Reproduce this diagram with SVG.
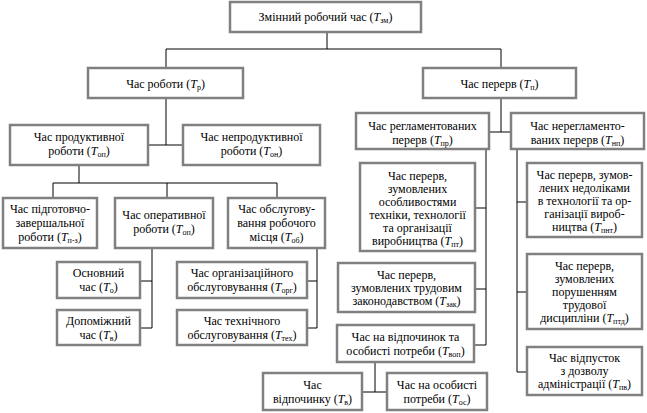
<svg xmlns="http://www.w3.org/2000/svg" width="647" height="413" viewBox="0 0 647 413">
<style>
.b{fill:#fff;stroke:#808080;stroke-width:2.5}
.t text{font-family:"Times New Roman","Liberation Serif",Tinos,"DejaVu Serif",serif;font-size:12px;fill:#000;text-anchor:middle}
.i{font-style:italic}
.s{font-size:8px}
.c{stroke:#000;stroke-width:1;fill:none}
</style>
<rect width="647" height="413" fill="#fff"/>
<g id="connectors" class="c">
<path d="M327,32V49M166,49H501M166,49V68M501,49V68"/>
<path d="M166,98V145M148,145H183"/>
<path d="M79,165V183M53,183H277M53,183V198M167,183V198M277,183V198"/>
<path d="M152,248V328M140,281H152M140,328H152"/>
<path d="M317,248V328M307,281H317M307,328H317"/>
<path d="M501,98V132M489,132H511"/>
<path d="M486,149V345M475,208H486M475,289H486M474,345H486"/>
<path d="M517,149V372M517,202H527M517,292H527M517,372H527"/>
<path d="M375,362V392M362,392H387"/>
</g>
<g class="t">
<g id="n_tzm"><rect class="b" x="230" y="2" width="191" height="30"/>
<text x="325.5" y="21">Змінний робочий час (<tspan class="i">T</tspan><tspan class="s" dy="2">зм</tspan><tspan dy="-2">)</tspan></text></g>
<g id="n_tr"><rect class="b" x="88" y="68" width="155" height="30"/>
<text x="165.5" y="88">Час роботи (<tspan class="i">T</tspan><tspan class="s" dy="2">р</tspan><tspan dy="-2">)</tspan></text></g>
<g id="n_tp"><rect class="b" x="423" y="68" width="153" height="30"/>
<text x="499.5" y="88">Час перерв (<tspan class="i">T</tspan><tspan class="s" dy="2">п</tspan><tspan dy="-2">)</tspan></text></g>
<g id="n_prod"><rect class="b" x="10" y="125" width="138" height="40"/>
<text x="79" y="141">Час продуктивної</text>
<text x="79" y="155">роботи (<tspan class="i">T</tspan><tspan class="s" dy="2">оп</tspan><tspan dy="-2">)</tspan></text></g>
<g id="n_neprod"><rect class="b" x="183" y="125" width="137" height="40"/>
<text x="251.5" y="141">Час непродуктивної</text>
<text x="251.5" y="155">роботи (<tspan class="i">T</tspan><tspan class="s" dy="2">он</tspan><tspan dy="-2">)</tspan></text></g>
<g id="n_regl"><rect class="b" x="356" y="113" width="133" height="36"/>
<text x="422.5" y="130">Час регламентованих</text>
<text x="422.5" y="144">перерв (<tspan class="i">T</tspan><tspan class="s" dy="2">пр</tspan><tspan dy="-2">)</tspan></text></g>
<g id="n_nereg"><rect class="b" x="511" y="113" width="133" height="36"/>
<text x="577.5" y="130">Час нерегламенто-</text>
<text x="577.5" y="144">ваних перерв (<tspan class="i">T</tspan><tspan class="s" dy="2">нп</tspan><tspan dy="-2">)</tspan></text></g>
<g id="n_pz"><rect class="b" x="3" y="198" width="94" height="50"/>
<text x="50" y="213">Час підготовчо-</text>
<text x="50" y="227">завершальної</text>
<text x="50" y="241">роботи (<tspan class="i">T</tspan><tspan class="s" dy="2">п-з</tspan><tspan dy="-2">)</tspan></text></g>
<g id="n_oper"><rect class="b" x="115" y="198" width="98" height="50"/>
<text x="164" y="219">Час оперативної</text>
<text x="164" y="233">роботи (<tspan class="i">T</tspan><tspan class="s" dy="2">оп</tspan><tspan dy="-2">)</tspan></text></g>
<g id="n_obsl"><rect class="b" x="228" y="198" width="97" height="50"/>
<text x="276.5" y="213">Час обслугову-</text>
<text x="276.5" y="227">вання робочого</text>
<text x="276.5" y="241">місця (<tspan class="i">T</tspan><tspan class="s" dy="2">об</tspan><tspan dy="-2">)</tspan></text></g>
<g id="n_osn"><rect class="b" x="57" y="262" width="83" height="36"/>
<text x="98.5" y="277">Основний</text>
<text x="98.5" y="291">час (<tspan class="i">T</tspan><tspan class="s" dy="2">о</tspan><tspan dy="-2">)</tspan></text></g>
<g id="n_dop"><rect class="b" x="57" y="310" width="83" height="35"/>
<text x="98.5" y="325">Допоміжний</text>
<text x="98.5" y="339">час (<tspan class="i">T</tspan><tspan class="s" dy="2">в</tspan><tspan dy="-2">)</tspan></text></g>
<g id="n_org"><rect class="b" x="177" y="262" width="130" height="36"/>
<text x="242" y="277">Час організаційного</text>
<text x="242" y="291">обслуговування (<tspan class="i">T</tspan><tspan class="s" dy="2">орг</tspan><tspan dy="-2">)</tspan></text></g>
<g id="n_tech"><rect class="b" x="177" y="310" width="130" height="35"/>
<text x="242" y="325">Час технічного</text>
<text x="242" y="339">обслуговування (<tspan class="i">T</tspan><tspan class="s" dy="2">тех</tspan><tspan dy="-2">)</tspan></text></g>
<g id="n_pt"><rect class="b" x="360" y="163" width="115" height="88"/>
<text x="417.5" y="180">Час перерв,</text>
<text x="417.5" y="193">зумовлених</text>
<text x="417.5" y="206">особливостями</text>
<text x="417.5" y="219">техніки, технології</text>
<text x="417.5" y="232">та організації</text>
<text x="417.5" y="245">виробництва (<tspan class="i">T</tspan><tspan class="s" dy="2">пт</tspan><tspan dy="-2">)</tspan></text></g>
<g id="n_pnt"><rect class="b" x="527" y="163" width="115" height="74"/>
<text x="584.5" y="179">Час перерв, зумов-</text>
<text x="584.5" y="192">лених недоліками</text>
<text x="584.5" y="205">в технології та ор-</text>
<text x="584.5" y="218">ганізації вироб-</text>
<text x="584.5" y="231">ництва (<tspan class="i">T</tspan><tspan class="s" dy="2">пнт</tspan><tspan dy="-2">)</tspan></text></g>
<g id="n_zak"><rect class="b" x="338" y="263" width="137" height="49"/>
<text x="406.5" y="279">Час перерв,</text>
<text x="406.5" y="292">зумовлених трудовим</text>
<text x="406.5" y="305">законодавством (<tspan class="i">T</tspan><tspan class="s" dy="2">зак</tspan><tspan dy="-2">)</tspan></text></g>
<g id="n_vop"><rect class="b" x="337" y="325" width="137" height="37"/>
<text x="405.5" y="341">Час на відпочинок та</text>
<text x="405.5" y="355">особисті потреби (<tspan class="i">T</tspan><tspan class="s" dy="2">воп</tspan><tspan dy="-2">)</tspan></text></g>
<g id="n_ptd"><rect class="b" x="527" y="254" width="115" height="75"/>
<text x="584.5" y="270">Час перерв,</text>
<text x="584.5" y="283">зумовлених</text>
<text x="584.5" y="296">порушенням</text>
<text x="584.5" y="309">трудової</text>
<text x="584.5" y="322">дисципліни (<tspan class="i">T</tspan><tspan class="s" dy="2">птд</tspan><tspan dy="-2">)</tspan></text></g>
<g id="n_pv"><rect class="b" x="527" y="347" width="115" height="48"/>
<text x="584.5" y="362">Час відпусток</text>
<text x="584.5" y="375">з дозволу</text>
<text x="584.5" y="388">адміністрації (<tspan class="i">T</tspan><tspan class="s" dy="2">пв</tspan><tspan dy="-2">)</tspan></text></g>
<g id="n_vidp"><rect class="b" x="263" y="373" width="99" height="37"/>
<text x="312.5" y="389">Час</text>
<text x="312.5" y="403">відпочинку (<tspan class="i">T</tspan><tspan class="s" dy="2">в</tspan><tspan dy="-2">)</tspan></text></g>
<g id="n_os"><rect class="b" x="387" y="373" width="100" height="37"/>
<text x="437" y="389">Час на особисті</text>
<text x="437" y="403">потреби (<tspan class="i">T</tspan><tspan class="s" dy="2">ос</tspan><tspan dy="-2">)</tspan></text></g>
</g>
</svg>
